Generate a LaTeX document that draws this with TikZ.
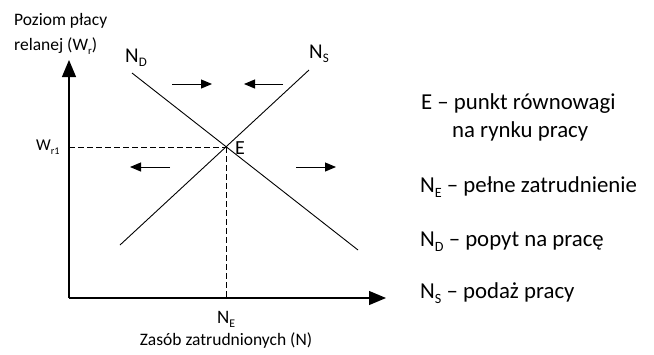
\documentclass[tikz,border=0pt]{standalone}
\usepackage{fontspec}
\setmainfont{Carlito}
\usetikzlibrary{arrows.meta}
\newcommand\lowsub[1]{\raisebox{-0.45ex}{\scalebox{0.62}{#1}}}
\begin{document}
\begin{tikzpicture}[x=1pt,y=-1pt,
  axis/.style={line width=1.2pt,-{Triangle[length=17pt,width=14pt]}},
  curve/.style={line width=0.9pt},
  guide/.style={line width=0.9pt,dash pattern=on 6pt off 3pt},
  movearrow/.style={line width=1pt,-{Triangle[length=11pt,width=9pt]}},
  lbl/.style={font=\fontsize{17.5}{20}\selectfont,inner sep=0pt},
  big/.style={font=\fontsize{21}{24}\selectfont,inner sep=0pt},
  leg/.style={font=\fontsize{22.8}{26}\selectfont,inner sep=0pt,anchor=west}]
\useasboundingbox (0,0) rectangle (654,354);
\coordinate (O) at (69,298);
\coordinate (Ytop) at (69,60);
\coordinate (Xend) at (386,298);
\draw[axis] (O) -- (Ytop);
\draw[axis] (O) -- (Xend);
\coordinate (E) at (226,147);
\coordinate (NDa) at (132,73);
\coordinate (NDb) at (358,250);
\coordinate (NSa) at (309,70);
\coordinate (NSb) at (120,245);
\draw[curve] (NDa) -- (NDb);
\draw[curve] (NSa) -- (NSb);
\coordinate (Wy) at (69,147);
\coordinate (Nx) at (226,298);
\draw[guide] (Wy) -- (E);
\draw[guide] (E) -- (Nx);
% shift arrows
\coordinate (a1s) at (172,84); \coordinate (a1e) at (212,84);
\coordinate (a2s) at (283,84); \coordinate (a2e) at (244,84);
\coordinate (a3s) at (170,167); \coordinate (a3e) at (130,167);
\coordinate (a4s) at (296,167); \coordinate (a4e) at (336,167);
\draw[movearrow] (a1s) -- (a1e);
\draw[movearrow] (a2s) -- (a2e);
\draw[movearrow] (a3s) -- (a3e);
\draw[movearrow] (a4s) -- (a4e);
% labels
\node[lbl,anchor=west] (ylab1) at (14,21) {Poziom płacy};
\node[lbl,anchor=west] (ylab2) at (14,46) {relanej (W\lowsub{r})};
\node[lbl,anchor=west,font=\fontsize{16.5}{18}\selectfont] (wr1) at (36,147) {W\lowsub{r1}};
\node[big,anchor=west] (ND) at (125,58) {N\lowsub{D}};
\node[big,anchor=west] (NS) at (309,54) {N\lowsub{S}};
\node[big,anchor=west,font=\fontsize{20}{22}\selectfont] (Elab) at (235,148) {E};
\node[big,anchor=west,font=\fontsize{19}{22}\selectfont] (NE) at (217,319) {N\lowsub{E}};
\node[lbl] (xlab) at (226,341) {Zasób zatrudnionych (N)};
% legend
\node[leg] (L1) at (421,104) {E – punkt równowagi};
\node[leg] (L1b) at (452,131) {na rynku pracy};
\node[leg] (L2) at (420,187) {N\lowsub{E} – pełne zatrudnienie};
\node[leg] (L3) at (420,242) {N\lowsub{D} – popyt na pracę};
\node[leg] (L4) at (420,293) {N\lowsub{S} – podaż pracy};
\end{tikzpicture}
\end{document}
